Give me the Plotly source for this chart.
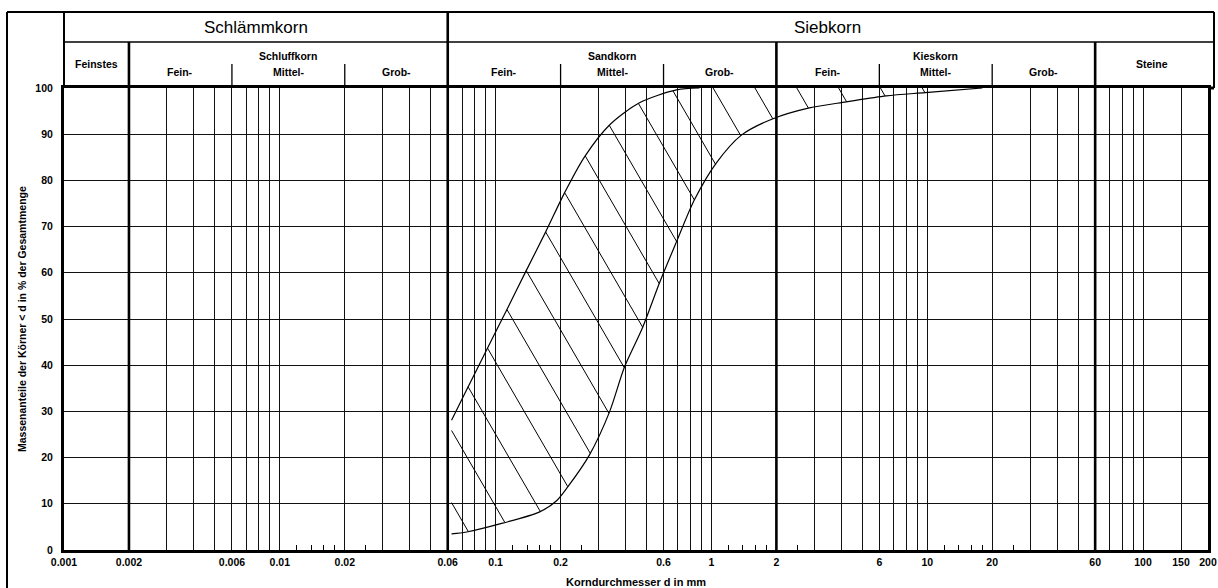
import numpy as np
import plotly.graph_objects as go

# ---------------- data ----------------
# fine (left) boundary of the grading band
fine_d = [0.0625, 0.0742, 0.0908, 0.1124, 0.1377, 0.1704, 0.2086, 0.2582, 0.3372, 0.4642, 0.6887, 0.88]
fine_p = [28.1, 35.1, 43.3, 51.9, 60.2, 68.8, 77.3, 85.1, 92.0, 96.8, 99.6, 100.0]
# coarse (right) boundary of the grading band
coarse_d = [0.0625, 0.0734, 0.1077, 0.1592, 0.191, 0.2154, 0.2723, 0.3372, 0.3955, 0.4793, 0.5743,
            0.6887, 0.8342, 1.0547, 1.3767, 1.916, 2.842, 4.217, 6.46, 9.79, 18.0]
coarse_p = [3.5, 3.9, 5.8, 8.2, 10.6, 13.6, 20.6, 29.9, 39.6, 48.1, 57.8,
            66.7, 75.8, 83.8, 89.8, 93.3, 95.7, 97.0, 98.3, 99.0, 100.0]

# axis ticks
x_labels = [0.001, 0.002, 0.006, 0.01, 0.02, 0.06, 0.1, 0.2, 0.6, 1, 2, 6, 10, 20, 60, 100, 150, 200]
x_label_text = ["0.001", "0.002", "0.006", "0.01", "0.02", "0.06", "0.1", "0.2", "0.6", "1", "2",
                "6", "10", "20", "60", "100", "150", "200"]
x_minor_grid = [0.003, 0.004, 0.005, 0.007, 0.008, 0.009,
                0.03, 0.04, 0.05, 0.07, 0.08, 0.09,
                0.3, 0.4, 0.5, 0.7, 0.8, 0.9,
                3, 4, 5, 7, 8, 9,
                30, 40, 50, 70, 80, 90]
x_short_ticks = [0.012, 0.014, 0.016, 0.018, 0.025,
                 0.12, 0.14, 0.16, 0.18, 0.25,
                 1.2, 1.4, 1.6, 1.8, 2.5,
                 12, 14, 16, 18, 25]
y_ticks = [0, 10, 20, 30, 40, 50, 60, 70, 80, 90, 100]

# class boundaries (header)
main_bounds = [0.002, 0.06, 2, 60]          # heavy lines
sub_bounds = [0.006, 0.02, 0.2, 0.6, 6, 20]  # Fein/Mittel/Grob dividers
top_classes = [("Schlämmkorn", 0.001, 0.06), ("Siebkorn", 0.06, 200)]
mid_classes = [("Schluffkorn", 0.002, 0.06), ("Sandkorn", 0.06, 2), ("Kieskorn", 2, 60)]
side_classes = [("Feinstes", 0.001, 0.002), ("Steine", 60, 200)]
sub_classes = [("Fein-", 0.002, 0.006), ("Mittel-", 0.006, 0.02), ("Grob-", 0.02, 0.06),
               ("Fein-", 0.06, 0.2), ("Mittel-", 0.2, 0.6), ("Grob-", 0.6, 2),
               ("Fein-", 2, 6), ("Mittel-", 6, 20), ("Grob-", 20, 60)]

# hatch parameters (lines  p = k - slope*log10(d))
hatch_slope = 80.6
hatch_k0 = -86.8
hatch_step = 15.62
hatch_n = 18

# ---------------- layout constants (page pixels) ----------------
W, H = 1218, 588
PL, PR, PT, PB = 64, 1208, 88, 550        # plot area in page pixels
L, T = PL, PT
R = W - PR
B = H - PB
pw, ph = (PR - PL), (PB - PT)


def py(Y):
    return (PB - Y) / ph


def px(X):
    return (X - PL) / pw


FONT = "Liberation Sans"

# ---------------- hatch computation ----------------
ld = np.linspace(np.log10(fine_d[0]), np.log10(coarse_d[-1]), 40000)
upper = np.minimum(np.interp(ld, np.log10(fine_d), fine_p, right=100.0), 100.0)
lower = np.interp(ld, np.log10(coarse_d), coarse_p, right=100.0)
hx, hy = [], []
for i in range(hatch_n):
    k = hatch_k0 + hatch_step * i
    p = k - hatch_slope * ld
    idx = np.where((p <= upper) & (p >= lower))[0]
    if len(idx) < 2:
        continue
    a, b = idx[0], idx[-1]
    hx += [10 ** ld[a], 10 ** ld[b], None]
    hy += [p[a], p[b], None]

fig = go.Figure()
fig.add_trace(go.Scatter(x=hx, y=hy, mode="lines", line=dict(color="black", width=1),
                         showlegend=False, hoverinfo="skip"))
fig.add_trace(go.Scatter(x=fine_d, y=fine_p, mode="lines",
                         line=dict(color="black", width=1.2, shape="spline", smoothing=0.8),
                         showlegend=False))
fig.add_trace(go.Scatter(x=coarse_d, y=coarse_p, mode="lines",
                         line=dict(color="black", width=1.2, shape="spline", smoothing=0.8),
                         showlegend=False))
fig.add_trace(go.Scatter(x=[], y=[], xaxis="x2", showlegend=False))

shapes = []
for v in main_bounds:
    top = py(12) if v == 0.06 else py(42)
    shapes.append(dict(type="line", xref="x", yref="paper", x0=v, x1=v, y0=0, y1=top,
                       line=dict(color="black", width=2.6)))
for v in sub_bounds:
    shapes.append(dict(type="line", xref="x", yref="paper", x0=v, x1=v, y0=1, y1=py(64),
                       line=dict(color="black", width=1.3)))
# header frame
shapes.append(dict(type="line", xref="paper", yref="paper", x0=px(7), x1=px(1214), y0=py(12), y1=py(12),
                   line=dict(color="black", width=2)))
shapes.append(dict(type="line", xref="paper", yref="paper", x0=0, x1=px(1214), y0=py(42), y1=py(42),
                   line=dict(color="black", width=1.5)))
shapes.append(dict(type="line", xref="paper", yref="paper", x0=0, x1=0, y0=1, y1=py(12),
                   line=dict(color="black", width=2)))
shapes.append(dict(type="line", xref="paper", yref="paper", x0=px(1214), x1=px(1214), y0=1, y1=py(12),
                   line=dict(color="black", width=2)))
shapes.append(dict(type="line", xref="paper", yref="paper", x0=1, x1=px(1214), y0=1, y1=1,
                   line=dict(color="black", width=3)))
shapes.append(dict(type="line", xref="paper", yref="paper", x0=px(7), x1=px(7),
                   y0=py(12), y1=py(600), line=dict(color="black", width=2)))

ann = []


def gm(a, b):
    return (np.log10(a) + np.log10(b)) / 2


def label(text, xv, yv, size, bold=True, xref="x", angle=0):
    f = dict(family=FONT, size=size, color="black")
    if bold:
        f["weight"] = "bold"
    ann.append(dict(text=text, x=xv, y=yv, xref=xref, yref="paper", showarrow=False,
                    xanchor="center", yanchor="middle", textangle=angle, font=f))


for t, a, b in top_classes:
    label(t, gm(a, b), py(28), 17, bold=False)
for t, a, b in mid_classes:
    label(t, gm(a, b), py(56), 10.5)
for t, a, b in side_classes:
    label(t, gm(a, b), py(64), 10.5)
for t, a, b in sub_classes:
    label(t, gm(a, b), py(72), 10.5)
label("Korndurchmesser d in mm", 0.5, py(582), 11, xref="paper")
label("Massenanteile der Körner < d in % der Gesamtmenge", px(22), 0.5, 10.5, xref="paper", angle=-90)

fig.update_layout(
    width=W, height=H,
    margin=dict(l=L, r=R, t=T, b=B, pad=0, autoexpand=False),
    paper_bgcolor="white", plot_bgcolor="white",
    shapes=shapes, annotations=ann,
    xaxis=dict(type="log", range=[-3, np.log10(200)], tickmode="array", tickvals=x_labels,
               ticktext=x_label_text, ticks="", showgrid=True, gridcolor="#111", gridwidth=1.4,
               minor=dict(tickmode="array", tickvals=x_minor_grid, showgrid=True, gridcolor="#111",
                          gridwidth=1.4, ticks=""),
               showline=True, linecolor="black", linewidth=3, mirror=True, zeroline=False,
               automargin=False, ticklabeloverflow="allow",
               tickfont=dict(family=FONT, size=10.5, color="black", weight="bold")),
    xaxis2=dict(type="log", range=[-3, np.log10(200)], overlaying="x", anchor="y", side="bottom",
                tickmode="array", tickvals=x_short_ticks, ticks="inside", ticklen=5, tickwidth=1.3,
                tickcolor="black", showticklabels=False, showgrid=False, showline=False, zeroline=False,
                automargin=False),
    yaxis=dict(range=[0, 100], tickmode="array", tickvals=y_ticks, ticks="", showgrid=True,
               gridcolor="#111", gridwidth=1.4, showline=True, linecolor="black", linewidth=3,
               mirror=True, zeroline=False, ticklabelstandoff=6, automargin=False,
               tickfont=dict(family=FONT, size=10.5, color="black", weight="bold")),
)

fig.write_html("out.html", config={"displayModeBar": False},
               post_script="document.body.style.margin='0';document.body.style.overflow='hidden';")
